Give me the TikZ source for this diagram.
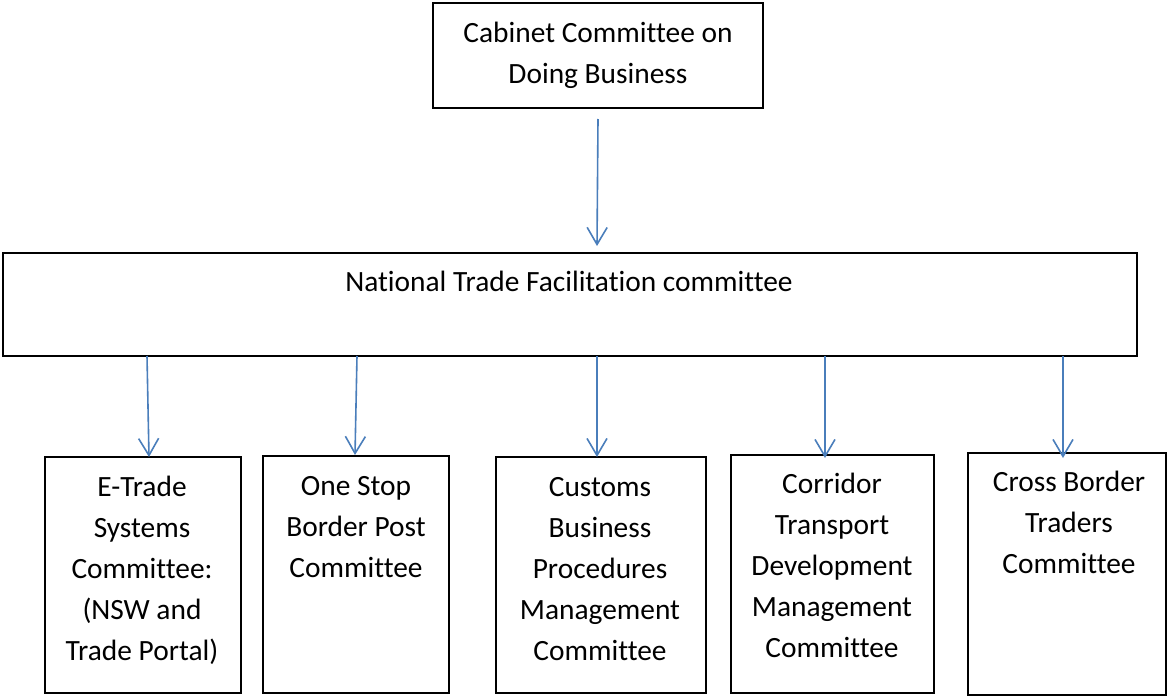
\documentclass[tikz,border=0pt]{standalone}
\usepackage{fontspec}
\setmainfont{Carlito}[Ligatures={NoCommon}]
\usetikzlibrary{arrows.meta}
\definecolor{arrowblue}{HTML}{4A7EBB}
\tikzset{
  box/.style={draw=black, line width=2pt, rectangle, inner sep=0pt, outer sep=0pt, anchor=north west},
  lbl/.style={inner sep=0pt, outer sep=0pt, align=center, anchor=base, font=\fontsize{29.4}{41}\selectfont},
  conn/.style={draw=arrowblue, line width=1.6pt, -{Straight Barb[length=17pt, width=20pt, line width=1.6pt]}}
}
\begin{document}
\begin{tikzpicture}[x=1pt, y=-1pt]
\useasboundingbox[fill=white] (0,0) rectangle (1168,696);
% boxes
\node[box, minimum width=330pt, minimum height=105pt] (cab) at (433,3) {};
\node[box, minimum width=1134pt, minimum height=103pt] (ntfc) at (3,253) {};
\node[box, minimum width=196pt, minimum height=236pt] (c1) at (45,457) {};
\node[box, minimum width=186pt, minimum height=237pt] (c2) at (263,456) {};
\node[box, minimum width=210pt, minimum height=236pt] (c3) at (496,457) {};
\node[box, minimum width=203pt, minimum height=238pt] (c4) at (731,455) {};
\node[box, minimum width=198pt, minimum height=242pt] (c5) at (968,453) {};
% texts (anchor base = baseline of last line)
\node[lbl] (tcab) at (598,83) {Cabinet Committee on\\Doing Business};
\node[lbl] (tntfc) at (569,291) {National Trade Facilitation committee};
\node[lbl] (t1) at (142,660) {E-Trade\\Systems\\Committee:\\(NSW and\\Trade Portal)};
\node[lbl] (t2) at (356,577) {One Stop\\Border Post\\Committee};
\node[lbl] (t3) at (600,660) {Customs\\Business\\Procedures\\Management\\Committee};
\node[lbl] (t4) at (832,657) {Corridor\\Transport\\Development\\Management\\Committee};
\node[lbl] (t5) at (1069,573) {Cross Border\\Traders\\Committee};
% helper coordinates for connector x positions / ends
\coordinate (x0) at (597,119);
\coordinate (y0) at (597,246);
\coordinate (x1s) at (147,0);
\coordinate (x1e) at (149,457);
\coordinate (x2s) at (357,0);
\coordinate (x2e) at (355,455);
\coordinate (x3s) at (597,0);
\coordinate (x3e) at (597,457);
\coordinate (x4s) at (825,0);
\coordinate (x4e) at (825,458);
\coordinate (x5s) at (1063,0);
\coordinate (x5e) at (1063,458);
% connectors
\draw[conn] (cab.south |- x0) -- (y0);
\draw[conn] (ntfc.south -| x1s) -- (x1e);
\draw[conn] (ntfc.south -| x2s) -- (x2e);
\draw[conn] (ntfc.south -| x3s) -- (x3e);
\draw[conn] (ntfc.south -| x4s) -- (x4e);
\draw[conn] (ntfc.south -| x5s) -- (x5e);
\end{tikzpicture}
\end{document}
